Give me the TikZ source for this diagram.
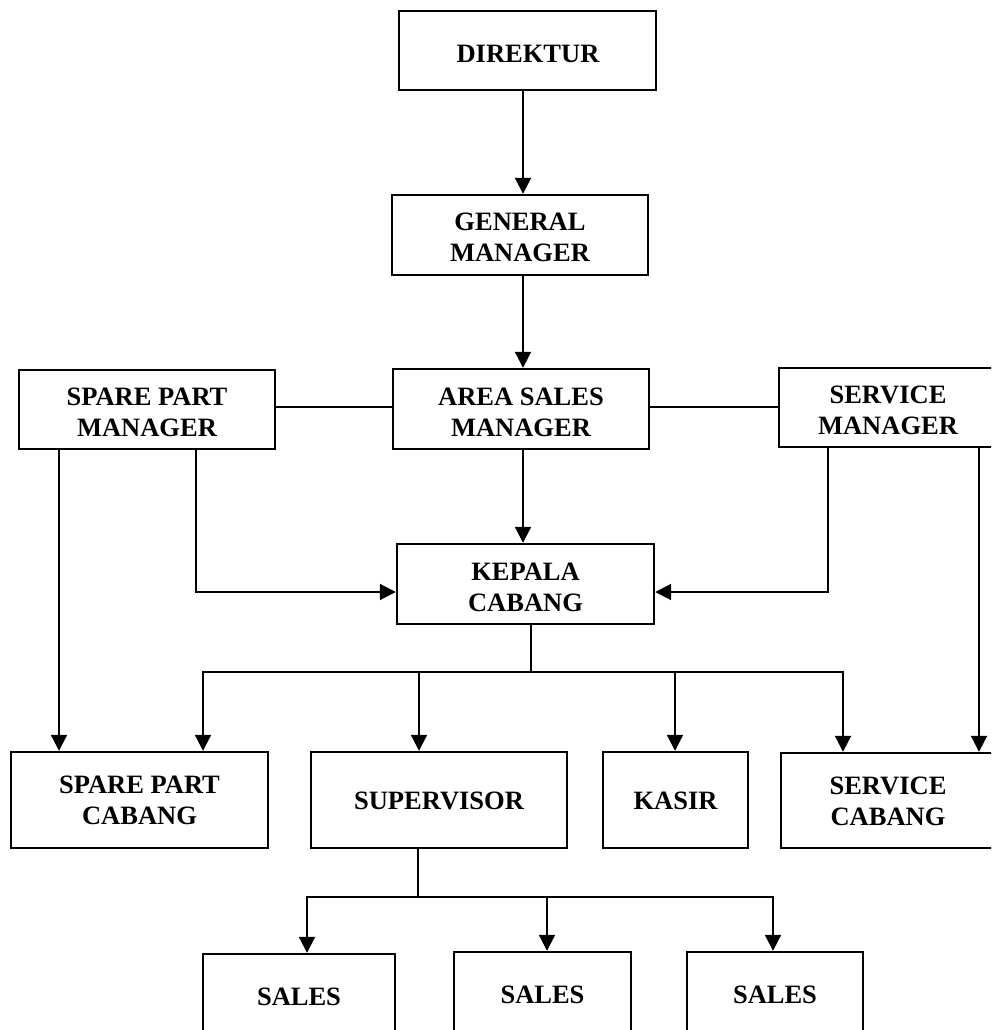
\documentclass[tikz,border=0pt]{standalone}
\usepackage{fontspec}
\setmainfont{Liberation Serif}
\usetikzlibrary{arrows.meta}

\tikzset{
  box/.style={draw, line width=2.4pt, rectangle, inner sep=0pt},
  lbl/.style={align=center, inner sep=0pt, font=\fontsize{26.5}{31}\selectfont\bfseries},
  link/.style={line width=2pt},
  arr/.style={link, -{Triangle[width=16pt,length=16pt]}}
}

\begin{document}
\begin{tikzpicture}[x=1pt,y=-1pt]
\useasboundingbox (0,0) rectangle (991,1030);
\clip (0,0) rectangle (991,1030);

% boxes
\node[box, minimum width=257pt, minimum height=79pt] (dir) at (527.5,50.5) {};
\node[box, minimum width=256pt, minimum height=80pt] (gm)  at (520,235) {};
\node[box, minimum width=256pt, minimum height=80pt] (asm) at (521,409) {};
\node[box, minimum width=256pt, minimum height=79pt] (spm) at (147,409.5) {};
\node[box, minimum width=218pt, minimum height=79pt] (sm)  at (888,407.5) {};
\node[box, minimum width=257pt, minimum height=80pt] (kc)  at (525.5,584) {};
\node[box, minimum width=257pt, minimum height=96pt] (spc) at (139.5,800) {};
\node[box, minimum width=256pt, minimum height=96pt] (sup) at (439,800) {};
\node[box, minimum width=145pt, minimum height=96pt] (kas) at (675.5,800) {};
\node[box, minimum width=214pt, minimum height=95pt] (sc)  at (888,800.5) {};
\node[box, minimum width=192pt, minimum height=86pt] (s1)  at (299,997) {};
\node[box, minimum width=177pt, minimum height=88pt] (s2)  at (542.5,996) {};
\node[box, minimum width=176pt, minimum height=88pt] (s3)  at (775,996) {};

% labels
\node[lbl] (tdir) at (528,54) {DIREKTUR};
\node[lbl] (tgm)  at (520,237.5) {GENERAL\\MANAGER};
\node[lbl] (tasm) at (521,412) {AREA SALES\\MANAGER};
\node[lbl] (tspm) at (147,412) {SPARE PART\\MANAGER};
\node[lbl] (tsm)  at (888,410) {SERVICE\\MANAGER};
\node[lbl] (tkc)  at (525.5,587) {KEPALA\\CABANG};
\node[lbl] (tspc) at (139.5,800) {SPARE PART\\CABANG};
\node[lbl] (tsup) at (439,801) {SUPERVISOR};
\node[lbl] (tkas) at (675.5,800.5) {KASIR};
\node[lbl] (tsc)  at (888,801) {SERVICE\\CABANG};
\node[lbl] (ts1)  at (299,997) {SALES};
\node[lbl] (ts2)  at (542.5,994.5) {SALES};
\node[lbl] (ts3)  at (775,995) {SALES};

% main chain
\draw[arr] ([xshift=-4.5pt]dir.south) -- ([xshift=3pt]gm.north);
\draw[arr] ([xshift=3pt]gm.south) -- ([xshift=2pt]asm.north);
\draw[arr] ([xshift=2pt]asm.south) -- ([xshift=-2.5pt]kc.north);

% managers on the same level
\draw[link] ([yshift=2.5pt]spm.east) -- ([yshift=2.5pt]spm.east -| asm.west);
\draw[link] ([yshift=2pt]asm.east) -- ([yshift=2pt]asm.east -| sm.west);

% spare part manager
\draw[arr] ([xshift=-88pt]spm.south) -- ([xshift=-88pt]spm.south |- spc.north);
\draw[arr] ([xshift=49pt]spm.south) |- ([yshift=-8pt]kc.west);

% service manager
\draw[arr] ([xshift=-60pt]sm.south) |- ([yshift=-8pt]kc.east);
\draw[arr] ([xshift=91pt]sm.south) -- ([xshift=91pt]sm.south |- sc.north);

% branch head to branch units
\coordinate (busK) at (531,672);
\draw[link] ([xshift=5.5pt]kc.south) -- (busK);
\draw[arr] (busK) -| ([xshift=63.5pt]spc.north);
\draw[arr] (busK) -| ([xshift=-45pt]sc.north);
\draw[arr] ([xshift=-20pt]sup.north |- busK) -- ([xshift=-20pt]sup.north);
\draw[arr] ([xshift=-0.5pt]kas.north |- busK) -- ([xshift=-0.5pt]kas.north);

% supervisor to sales
\coordinate (busS) at (418,897);
\draw[link] ([xshift=-21pt]sup.south) -- (busS);
\draw[arr] (busS) -| ([xshift=8pt]s1.north);
\draw[arr] (busS) -| ([xshift=-2pt]s3.north);
\draw[arr] ([xshift=4.5pt]s2.north |- busS) -- ([xshift=4.5pt]s2.north);
\end{tikzpicture}
\end{document}
